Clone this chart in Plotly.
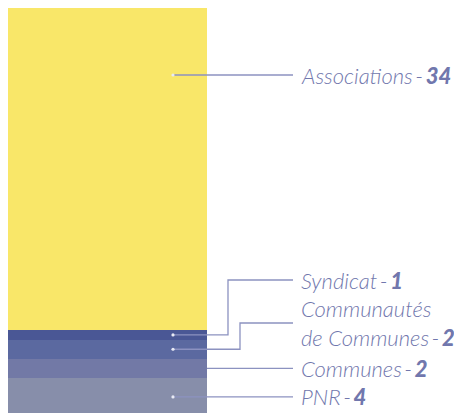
import plotly.graph_objects as go

categories = ["PNR", "Communes", "Communautés de Communes", "Syndicat", "Associations"]
values = [4, 2, 2, 1, 34]
label_texts = ["PNR", "Communes", "Communautés<br>de Communes", "Syndicat", "Associations"]
colors = ["#878EAA", "#7279A6", "#5B69A0", "#4A5795", "#F9E769"]

WIN_W, WIN_H = 462, 413
OFF = 8                      # page body margin
W, H = WIN_W - OFF, WIN_H - OFF
total = sum(values)
k = total / 410.0            # data units per pixel
y_bottom = 416               # window pixel where 0 sits
def py(p):
    return (y_bottom - p) * k

fig = go.Figure()
for cat, v, c in zip(categories, values, colors):
    fig.add_trace(go.Bar(x=[106.5], y=[v], width=201, name=cat,
                         marker=dict(color=c, line=dict(width=0)),
                         hoverinfo="name+y"))

starts = []
acc = 0
for v in values:
    starts.append(acc)
    acc += v
mids = [s + v / 2 for s, v in zip(starts, values)]

line_col = "#8C92C0"
text_col = "#7177AD"
dot_x, bar_right, end_x, text_x = 173, 207, 293, 299

leaders = [
    (mids[0], mids[0], None, True),           # PNR
    (mids[1], mids[1], None, False),          # Communes
    (mids[2], py(323), 240, True),            # CdC
    (mids[3], py(280), 228, True),            # Syndicat
    (py(75), py(75), None, True),             # Associations
]

shapes = []
for (dy, ly, ex, has_dot) in leaders:
    x0 = dot_x if has_dot else bar_right
    if ex is None:
        path = f"M {x0},{dy} L {end_x},{ly}"
    else:
        path = f"M {x0},{dy} L {ex},{dy} L {ex},{ly} L {end_x},{ly}"
    shapes.append(dict(type="path", path=path, xref="x", yref="y",
                       line=dict(color=line_col, width=1.3)))
    if has_dot:
        r = 1.6
        shapes.append(dict(type="circle", xref="x", yref="y",
                           x0=dot_x - r, x1=dot_x + r,
                           y0=dy - r * k, y1=dy + r * k,
                           fillcolor="#E8EAF4", line=dict(width=0)))

annotations = []
for (dy, ly, ex, has_dot), lt, v in zip(leaders, label_texts, values):
    annotations.append(dict(
        x=text_x, y=ly, xref="x", yref="y",
        xanchor="left", yanchor="middle", align="left", showarrow=False,
        text=f"{lt}\u2009-\u2009<span style='font-weight:900'>{v}</span>",
        font=dict(family="Lato", size=22, color=text_col, style="italic", weight=300),
    ))

fig.update_layout(
    width=W, height=H, margin=dict(l=0, r=0, t=0, b=0),
    paper_bgcolor="white", plot_bgcolor="white",
    barmode="stack", showlegend=False,
    xaxis=dict(range=[OFF, WIN_W], visible=False, fixedrange=True),
    yaxis=dict(range=[py(WIN_H), py(OFF)], visible=False, fixedrange=True),
    shapes=shapes, annotations=annotations,
)

fig.write_html("out.html")
